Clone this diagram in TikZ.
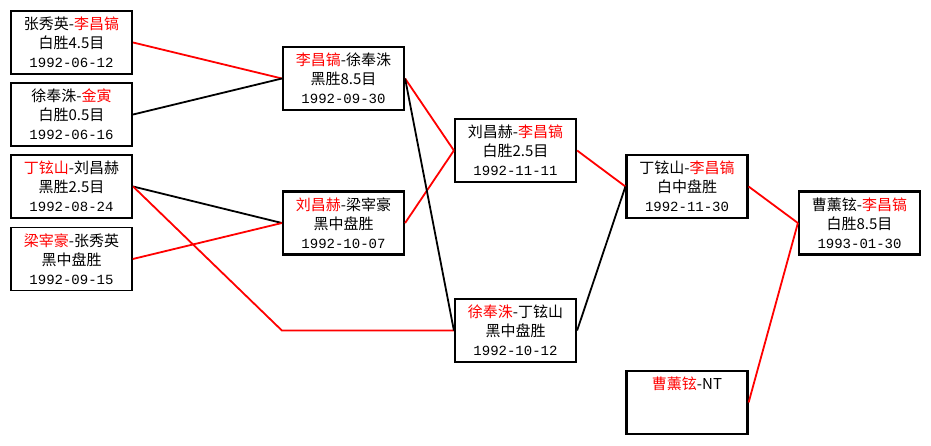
\documentclass[tikz,border=0pt]{standalone}
\usepackage{fontspec}
\setmainfont{Noto Sans CJK SC}
\setmonofont{Liberation Mono}
\newcommand{\wn}[1]{\textcolor{red}{#1}}
\newcommand{\dd}[1]{{\ttfamily\fontsize{14}{19}\selectfont #1}}

\begin{document}
\begin{tikzpicture}[x=1pt, y=-1pt,
    game/.style={draw, line width=2.2pt, minimum width=121pt, minimum height=63pt,
                 inner sep=0pt, align=center, font=\fontsize{15}{19}\selectfont},
    win/.style={line width=1.8pt, red},
    loss/.style={line width=1.8pt, black}]
  \useasboundingbox (0,0) rectangle (931,445);
  \node[game] (r1a) at (71.5,42.5) {张秀英-\wn{李昌镐}\\白胜4.5目\\\dd{1992-06-12}};
  \node[game] (r1b) at (71.5,114.5) {徐奉洙-\wn{金寅}\\白胜0.5目\\\dd{1992-06-16}};
  \node[game] (r1c) at (71.5,186.5) {\wn{丁铉山}-刘昌赫\\黑胜2.5目\\\dd{1992-08-24}};
  \node[game, line width=1.5pt] (r1d) at (71.5,259) {\wn{梁宰豪}-张秀英\\黑中盘胜\\\dd{1992-09-15}};
  \node[game] (r2a) at (343.5,78.5) {\wn{李昌镐}-徐奉洙\\黑胜8.5目\\\dd{1992-09-30}};
  \node[game] (r2b) at (343.5,223) {\wn{刘昌赫}-梁宰豪\\黑中盘胜\\\dd{1992-10-07}};
  \node[game] (r3a) at (515.5,150.5) {刘昌赫-\wn{李昌镐}\\白胜2.5目\\\dd{1992-11-11}};
  \node[game] (r3b) at (515.5,330.5) {\wn{徐奉洙}-丁铉山\\黑中盘胜\\\dd{1992-10-12}};
  \node[game] (r4a) at (687,186.5) {丁铉山-\wn{李昌镐}\\白中盘胜\\\dd{1992-11-30}};
  \node[game] (r4b) at (687,402.5) {\wn{曹薰铉}-NT\\\mbox{}\\\mbox{}};
  \node[game] (fin) at (859.5,223) {曹薰铉-\wn{李昌镐}\\白胜8.5目\\\dd{1993-01-30}};

  \draw[win]  (r1a.east) -- (r2a.west);
  \draw[loss] (r1b.east) -- (r2a.west);
  \draw[loss] (r1c.east) -- (r2b.west);
  \draw[win]  (r1d.east) -- (r2b.west);
  \draw[win]  (r1c.east) -- (r2b.west |- r3b.west) -- (r3b.west);
  \draw[win]  (r2a.east) -- (r3a.west);
  \draw[win]  (r2b.east) -- (r3a.west);
  \draw[loss] (r2a.east) -- (r3b.west);
  \draw[win]  (r3a.east) -- (r4a.west);
  \draw[loss] (r3b.east) -- (r4a.west);
  \draw[win]  (r4a.east) -- (fin.west);
  \draw[win]  (r4b.east) -- (fin.west);
\end{tikzpicture}
\end{document}
